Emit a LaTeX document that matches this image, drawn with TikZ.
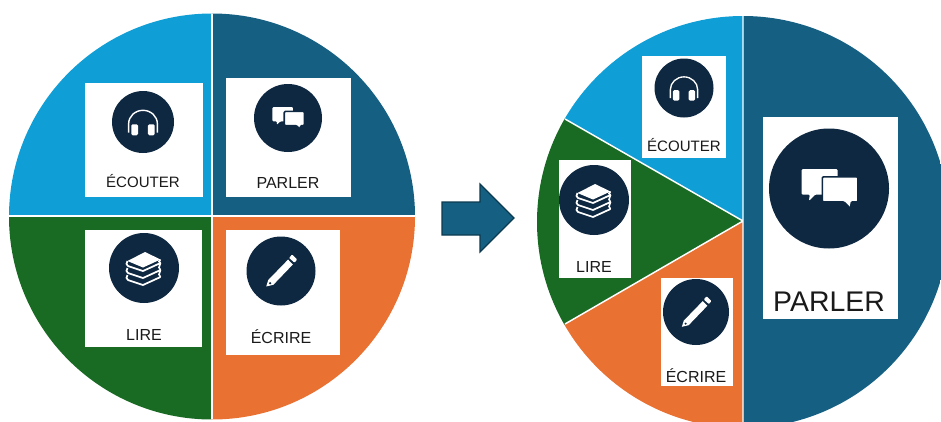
\documentclass[tikz,border=0pt]{standalone}
\usepackage{fontspec}
\setmainfont{Liberation Sans}
\definecolor{cblue}{HTML}{0F9ED5}
\definecolor{cteal}{HTML}{156082}
\definecolor{cgreen}{HTML}{196B24}
\definecolor{corange}{HTML}{E97132}
\definecolor{cdark}{HTML}{0E2841}
\definecolor{ctext}{HTML}{1A1A1A}
\definecolor{carrowline}{HTML}{0C3A50}
\tikzset{
  cardbox/.style={fill=white,draw=none},
  iconline/.style={draw=white,line width=1.1pt,fill=none},
  iconfill/.style={fill=white,draw=none},
  bubblefill/.style={fill=white,draw=cdark,line width=1.2pt,line join=round},
  cardlabel/.style={text=ctext,inner sep=0pt,anchor=center},
}
\newcommand{\card}[5]{\fill[cardbox] (#2,#3) rectangle (#4,#5);\coordinate (#1) at (#2,#3);}
\newcommand{\disc}[3]{\fill[cdark] (#1,#2) circle[x=0.75pt,y=0.75pt,radius=#3];}
\newcommand{\headicon}[3]{\disc{#1}{#2}{#3}%
 \begin{scope}[shift={(#1,#2)},scale=#3/35]
  \draw[iconline,line width=1.2pt*#3/35] (-16.2,12) -- (-16.2,2) arc[start angle=180,end angle=360,x radius=16.2,y radius=15.2] -- (16.2,12);
  \fill[iconfill,rounded corners=1pt] (-13.2,2.6) rectangle (-5.6,15);
  \fill[iconfill,rounded corners=1pt] (13.2,2.6) rectangle (5.6,15);
 \end{scope}}
\newcommand{\chaticon}[3]{\disc{#1}{#2}{#3}%
 \begin{scope}[shift={(#1,#2)},scale=#3/35]
  \path[bubblefill,draw=none,rounded corners=.8pt] (-16,-11.3) -- (5,-11.3) -- (5,3.5) -- (-8,3.5) -- (-11.7,7.2) -- (-11.2,3.5) -- (-16,3.5) -- cycle;
  \path[bubblefill,rounded corners=.8pt] (-3.9,-6.8) -- (16.9,-6.8) -- (16.9,7.8) -- (13,7.8) -- (12.6,11.7) -- (8.6,7.8) -- (-3.9,7.8) -- cycle;
 \end{scope}}
\newcommand{\bookicon}[3]{\disc{#1}{#2}{#3}%
 \begin{scope}[shift={(#1,#2)},scale=#3/35]
  \fill[iconfill,line join=round] (-16.5,-7) -- (1,-16) -- (16.5,-8.5) -- (-1,-0.5) -- cycle;
  \foreach \d in {0,7,14}{
   \draw[iconline,line width=1.3pt*#3/35,line join=round] (-16.5,-7+\d) .. controls (-18,-5+\d) and (-18,-3+\d) .. (-16,-2+\d) -- (-1,3+\d) -- (16.5,-5+\d);
  }
  \draw[iconline,line width=1.2pt*#3/35] (16.5,-8.5) -- (15,-6.5) -- (16.5,-5);
  \draw[iconline,line width=1.2pt*#3/35] (16.5,-5) -- (15,-0.5) -- (16.5,2);
  \draw[iconline,line width=1.2pt*#3/35] (16.5,2) -- (15,6.5) -- (16.5,9);
 \end{scope}}
\newcommand{\pencilicon}[3]{\disc{#1}{#2}{#3}%
 \begin{scope}[shift={(#1,#2)},scale=#3/35]
  \fill[iconfill,rounded corners=.6pt] (11.2,-16.7) -- (16.3,-11.7) -- (13.8,-8.4) -- (8.2,-13.2) -- cycle;
  \fill[iconfill] (7.2,-11.6) -- (12,-6.6) -- (-7.8,14) -- (-15,15.7) -- (-13,9.2) -- cycle;
  \fill[cdark] (-11,12.4) circle[x=0.75pt,y=0.75pt,radius=1.3*#3/35];
 \end{scope}}
\begin{document}
\begin{tikzpicture}[x=0.75pt,y=-0.75pt]
\useasboundingbox (0,0) rectangle (941,421);
% left pie
\begin{scope}
 \clip (212,216.5) circle[radius=203];
 \fill[cblue] (0,0) rectangle (212,216);
 \fill[cteal] (212,0) rectangle (430,216);
 \fill[cgreen] (0,216) rectangle (212,430);
 \fill[corange] (212,216) rectangle (430,430);
 \draw[white,line width=1.1pt] (212,0) -- (212,430) (0,216) -- (430,216);
\end{scope}
% left cards
\card{la}{85}{83}{203}{197}
\card{lb}{226}{78}{351}{197}
\card{lc}{85}{230}{202}{347}
\card{ld}{226}{230}{340}{355}
\headicon{143}{122}{31}
\chaticon{288}{118}{34}
\bookicon{144}{268}{35}
\pencilicon{281}{271}{34.5}
\node[cardlabel,font=\fontsize{11.3pt}{13pt}\selectfont] (t1) at (143,181.5) {ÉCOUTER};
\node[cardlabel,font=\fontsize{12pt}{14pt}\selectfont] (t2) at (288,183) {PARLER};
\node[cardlabel,font=\fontsize{12pt}{14pt}\selectfont] (t3) at (144,335) {LIRE};
\node[cardlabel,font=\fontsize{12pt}{14pt}\selectfont] (t4) at (281,337) {ÉCRIRE};
% arrow
\draw[fill=cteal,draw=carrowline,line width=0.9pt,line join=miter] (442,202) -- (480,202) -- (480,184) -- (514,218) -- (480,252) -- (480,235) -- (442,235) -- cycle;
% right pie
\begin{scope}
 \clip (743,222) circle[radius=206];
 \fill[cteal] (743,0) rectangle (960,440);
 \fill[cblue] (743,221) -- (565,119) -- (500,0) -- (743,0) -- cycle;
 \fill[cgreen] (743,221) -- (565,119) -- (500,0) -- (500,440) -- (565,324) -- cycle;
 \fill[corange] (743,221) -- (565,324) -- (500,440) -- (743,440) -- cycle;
 \draw[white,line width=1.1pt] (743,0) -- (743,440) (743,221) -- (565,119) (743,221) -- (565,324);
\end{scope}
% right cards
\card{ra}{642}{56}{726}{158}
\card{rb}{763}{117}{898}{319}
\card{rc}{559}{160}{631}{278}
\card{rd}{661}{278}{733}{386}
\headicon{684}{88}{29.5}
\chaticon{829}{188.5}{60}
\bookicon{594}{200}{35}
\pencilicon{696}{312}{33}
\node[cardlabel,font=\fontsize{11.3pt}{13pt}\selectfont] (t5) at (684,145) {ÉCOUTER};
\node[cardlabel,font=\fontsize{21.3pt}{24pt}\selectfont] (t6) at (829,302) {PARLER};
\node[cardlabel,font=\fontsize{12pt}{14pt}\selectfont] (t7) at (594,267) {LIRE};
\node[cardlabel,font=\fontsize{12pt}{14pt}\selectfont] (t8) at (696,376) {ÉCRIRE};
\end{tikzpicture}
\end{document}
